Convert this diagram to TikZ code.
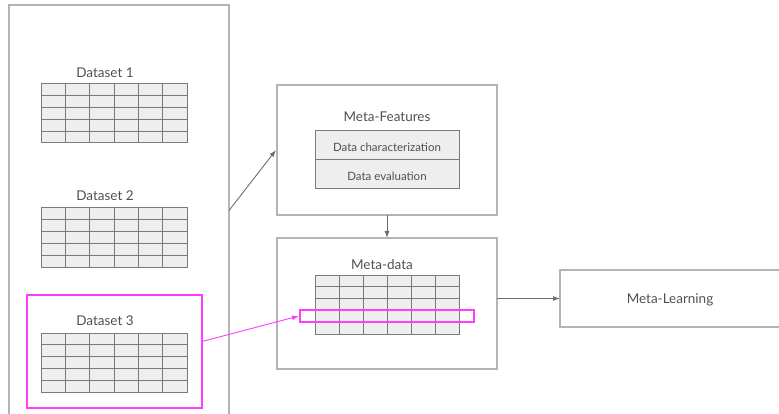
\documentclass[tikz,border=0pt]{standalone}
\usepackage{fontspec}
\setmainfont{Lato}
\usetikzlibrary{calc,arrows.meta}

\definecolor{boxline}{HTML}{B4B4B4}
\definecolor{gridline}{HTML}{7A7A7A}
\definecolor{cellfill}{HTML}{EEEEEE}
\definecolor{connline}{HTML}{6E6E6E}
\definecolor{txt}{HTML}{505050}
\definecolor{hilite}{HTML}{FF3CFF}

\tikzset{
  frame/.style={draw=boxline, line width=1.2pt, inner sep=0pt, outer sep=0pt},
  tbl/.style={draw=gridline, fill=cellfill, line width=1pt, inner sep=0pt, outer sep=0pt,
    minimum width=146pt, minimum height=59pt},
  tableline/.style={draw=gridline, line width=0.9pt},
  lbl/.style={text=txt, font=\fontsize{13.5}{16}\selectfont, inner sep=0pt},
  small/.style={text=txt, font=\fontsize{11.5}{13}\selectfont, inner sep=0pt},
  cell/.style={draw=gridline, fill=cellfill, line width=1pt, inner sep=0pt, outer sep=0pt,
    minimum width=144pt, minimum height=29pt},
  hbox/.style={draw=hilite, line width=1.6pt, inner sep=0pt, outer sep=0pt},
  conn/.style={draw=connline, line width=0.9pt, -{Latex[length=7pt,width=5pt]}},
  hconn/.style={draw=hilite, line width=0.9pt, -{Latex[length=7pt,width=5pt]}},
}

% grid of 6 columns and 5 rows inside a table node
\newcommand\cellgrid[1]{%
  \foreach \i in {1,...,5}
    \draw[tableline] ($(#1.north west)!\i/6!(#1.north east)$) -- ($(#1.south west)!\i/6!(#1.south east)$);
  \foreach \j in {1,...,4}
    \draw[tableline] ($(#1.north west)!\j/5!(#1.south west)$) -- ($(#1.north east)!\j/5!(#1.south east)$);
}

\begin{document}
\begin{tikzpicture}[x=1pt, y=-1pt]
\useasboundingbox (0,0) rectangle (779,414);

% source datasets
\node[frame, minimum width=220pt, minimum height=415pt, anchor=north west] (src) at (9,5) {};

\node[lbl] (d1) at (105,73) {Dataset 1};
\node[tbl] (t1) at (114,113.5) {};
\cellgrid{t1}

\node[lbl] (d2) at (105,196) {Dataset 2};
\node[tbl] (t2) at (114,237.5) {};
\cellgrid{t2}

\node[hbox, minimum width=175pt, minimum height=113pt] (h3) at (114.5,351.5) {};
\node[lbl] (d3) at (105,321) {Dataset 3};
\node[tbl] (t3) at (114,362.5) {};
\cellgrid{t3}

% meta-features
\node[frame, minimum width=220pt, minimum height=130pt] (mf) at (387,150) {};
\node[lbl] (mfl) at (387,117) {Meta-Features};
\node[cell] (dc) at (387,145.5) {};
\node[small] (dct) at (387,147.5) {Data characterization};
\node[cell] (de) at (387,174.5) {};
\node[small] (det) at (387,176.5) {Data evaluation};

% meta-data
\node[frame, minimum width=220pt, minimum height=131pt] (md) at (387,303.5) {};
\node[lbl] (mdl) at (382,265) {Meta-data};
\node[tbl, minimum width=144pt] (tm) at (387,304.5) {};
\cellgrid{tm}
\node[hbox, minimum width=174pt, minimum height=12pt] (row) at (387,316) {};

% meta-learning
\node[frame, minimum width=230pt, minimum height=57pt, anchor=west] (ml) at (560,298.5) {};
\node[lbl] (mll) at (670,300) {Meta-Learning};

% connectors
\draw[conn] ([yshift=2pt]src.east) -- ([xshift=-1pt]mf.west);
\draw[conn] (mf.south) -- (md.north);
\draw[conn] (md.east |- ml.west) -- (ml.west);
\draw[hconn] ([yshift=10pt]h3.east) -- ([xshift=-1pt]row.west);
\end{tikzpicture}
\end{document}
